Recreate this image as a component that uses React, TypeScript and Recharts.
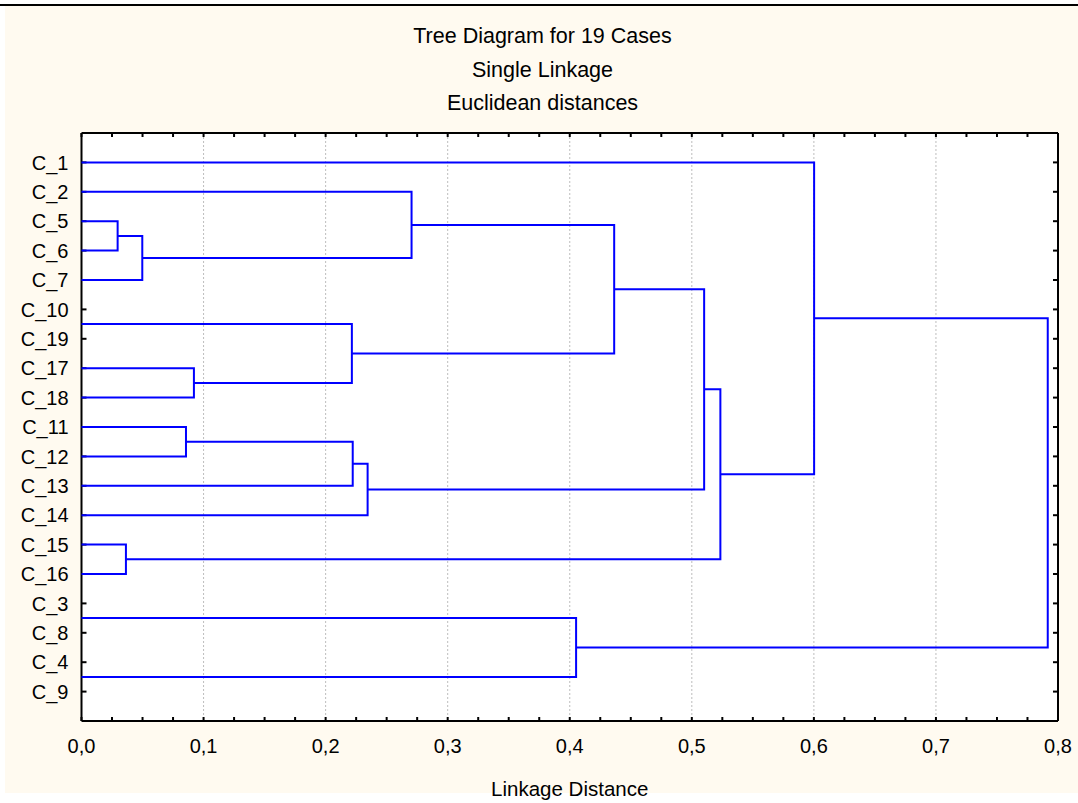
import { CartesianGrid, Scatter, ScatterChart, XAxis, YAxis } from "recharts";

const FONT = "'Liberation Sans', Arial, sans-serif";

// row labels on the left, top to bottom
const caseLabels = [
  "C_1", "C_2", "C_5", "C_6", "C_7", "C_10", "C_19", "C_17", "C_18", "C_11",
  "C_12", "C_13", "C_14", "C_15", "C_16", "C_3", "C_8", "C_4", "C_9",
];
const rowTicks = [1, 2, 3, 4, 5, 6, 7, 8, 9, 10, 11, 12, 13, 14, 15, 16, 17, 18, 19];

const xTicks = [0, 0.1, 0.2, 0.3, 0.4, 0.5, 0.6, 0.7, 0.8];
const xTickLabels = ["0,0", "0,1", "0,2", "0,3", "0,4", "0,5", "0,6", "0,7", "0,8"];
const minorTicks = [
  0, 0.025, 0.05, 0.075, 0.1, 0.125, 0.15, 0.175, 0.2, 0.225, 0.25, 0.275,
  0.3, 0.325, 0.35, 0.375, 0.4, 0.425, 0.45, 0.475, 0.5, 0.525, 0.55, 0.575,
  0.6, 0.625, 0.65, 0.675, 0.7, 0.725, 0.75, 0.775, 0.8,
];

// leaf lines as drawn (row position), ids 0..15
const leafRows = [1, 2, 3, 4, 5, 6.5, 8, 9, 10, 11, 12, 13, 14, 15, 16.5, 18.5];

// merges, ids 16.. in order: children a, b and linkage distance
const mergeA = [2, 16, 1, 6, 5, 18, 8, 22, 23, 21, 12, 25, 0, 14, 28];
const mergeB = [3, 4, 17, 7, 19, 20, 9, 10, 11, 24, 13, 26, 27, 15, 29];
const mergeHeight = [
  0.0296, 0.0498, 0.2704, 0.0921, 0.2215, 0.4364, 0.0856, 0.2222, 0.2344,
  0.5101, 0.0364, 0.5234, 0.6002, 0.4052, 0.7916,
];

const nodeX: number[] = leafRows.map(() => 0);
const nodeY: number[] = [...leafRows];
mergeA.forEach((a, i) => {
  nodeX.push(mergeHeight[i]);
  nodeY.push((nodeY[a] + nodeY[mergeB[i]]) / 2);
});

const links = mergeA.map((a, i) => {
  const b = mergeB[i];
  const h = mergeHeight[i];
  return [
    { x: nodeX[a], y: nodeY[a] },
    { x: h, y: nodeY[a] },
    { x: h, y: nodeY[b] },
    { x: nodeX[b], y: nodeY[b] },
  ];
});
const nodePoints = nodeX.map((x, i) => ({ x, y: nodeY[i] }));

const noDot = () => <g />;
const noLabel = () => <g />;
const frame = { stroke: "#000", strokeWidth: 2 };

export default function App() {
  return (
    <div style={{ position: "absolute", left: 0, top: 0, width: 1078, height: 803, background: "#fff" }}>
      <div style={{ position: "absolute", left: 5, top: 6, width: 1073, height: 787, background: "#fffaf0" }} />
      <div style={{ position: "absolute", left: 0, top: 4, width: 1078, height: 2, background: "#000" }} />
      <div
        style={{
          position: "absolute",
          left: 0,
          top: 20,
          width: 1085,
          textAlign: "center",
          fontFamily: FONT,
          fontSize: 21.5,
          lineHeight: "33.6px",
          color: "#000",
        }}
      >
        <div>Tree Diagram for 19 Cases</div>
        <div>Single Linkage</div>
        <div>Euclidean distances</div>
      </div>
      <div style={{ position: "absolute", left: 0, top: 0 }}>
        <ScatterChart width={1078} height={803} margin={{ top: 133, right: 20, bottom: 42, left: 11.5 }}>
          <CartesianGrid
            xAxisId="b"
            yAxisId="l"
            horizontal={false}
            stroke="#bdbdbd"
            strokeDasharray="2 2"
            fill="#fff"
            fillOpacity={1}
          />
          {links.map((pts, i) => (
            <Scatter
              key={i}
              xAxisId="b"
              yAxisId="l"
              data={pts}
              line={{ stroke: "#0000ff", strokeWidth: 2 }}
              shape={noDot}
              legendType="none"
              isAnimationActive={false}
            />
          ))}
          {/* invisible series so the frame axes get their ticks */}
          <Scatter xAxisId="t" yAxisId="r" data={nodePoints} shape={noDot} legendType="none" isAnimationActive={false} />
          <Scatter xAxisId="bm" yAxisId="lm" data={nodePoints} shape={noDot} legendType="none" isAnimationActive={false} />
          <XAxis
            xAxisId="b"
            type="number"
            dataKey="x"
            domain={[0, 0.8]}
            ticks={xTicks}
            interval={0}
            tickFormatter={(_v, i) => xTickLabels[i]}
            axisLine={false}
            tickLine={false}
            tickSize={0}
            tickMargin={18}
            height={40}
            tick={{ fill: "#000", fontSize: 20, fontFamily: FONT }}
          />
          <YAxis
            yAxisId="l"
            type="number"
            dataKey="y"
            domain={[0, 20]}
            reversed
            ticks={rowTicks}
            interval={0}
            tickFormatter={(v) => caseLabels[v - 1]}
            axisLine={false}
            tickLine={false}
            tickSize={0}
            tickMargin={13}
            width={70}
            tick={{ fill: "#000", fontSize: 20, fontFamily: FONT }}
          />
          <XAxis xAxisId="bm" orientation="bottom" mirror type="number" dataKey="x" domain={[0, 0.8]} ticks={minorTicks}
            interval={0} tick={noLabel} tickSize={4} axisLine={frame} tickLine={frame} />
          <XAxis xAxisId="t" orientation="top" mirror type="number" dataKey="x" domain={[0, 0.8]} ticks={minorTicks}
            interval={0} tick={noLabel} tickSize={4} axisLine={frame} tickLine={frame} />
          <YAxis yAxisId="lm" orientation="left" mirror type="number" dataKey="y" domain={[0, 20]} reversed ticks={rowTicks}
            interval={0} tick={noLabel} tickSize={5} axisLine={frame} tickLine={frame} />
          <YAxis yAxisId="r" orientation="right" mirror type="number" dataKey="y" domain={[0, 20]} reversed ticks={rowTicks}
            interval={0} tick={noLabel} tickSize={5} axisLine={frame} tickLine={frame} />
        </ScatterChart>
      </div>
      <div
        style={{
          position: "absolute",
          left: 81.5,
          top: 779,
          width: 976.5,
          textAlign: "center",
          fontFamily: FONT,
          fontSize: 20.5,
          lineHeight: "20px",
          color: "#000",
        }}
      >
        Linkage Distance
      </div>
    </div>
  );
}
